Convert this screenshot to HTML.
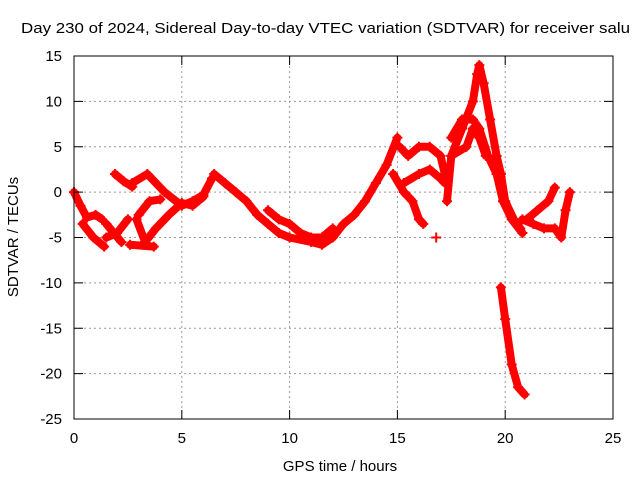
<!DOCTYPE html>
<html><head><meta charset="utf-8"><style>body{margin:0;background:#fff}svg{display:block}text{font-family:"Liberation Sans",sans-serif;font-size:15px;fill:#000}</style></head>
<body>
<svg id="chart" width="640" height="480" viewBox="0 0 640 480">
<text x="21" y="33" textLength="609" lengthAdjust="spacingAndGlyphs">Day 230 of 2024, Sidereal Day-to-day VTEC variation (SDTVAR) for receiver salu</text>
<g id="grid"></g>
<g id="marks"></g>
<rect x="74" y="56" width="539" height="363" fill="none" stroke="#000" stroke-width="1"/>
<g id="axes"></g>
<text x="340" y="471" text-anchor="middle">GPS time / hours</text>
<text transform="translate(18,237) rotate(-90)" text-anchor="middle">SDTVAR / TECUs</text>
</svg>
<script>
const xTicks=[0,5,10,15,20,25];
const yTicks=[15,10,5,0,-5,-10,-15,-20,-25];
const trackA=[[0,0],[0.3,-1.5],[0.6,-2.8],[1,-2.5],[1.3,-3]];
const trackB=[[0.4,-3.5],[0.9,-5],[1.4,-6]];
const trackC=[[1.9,2],[2.3,1.2],[2.7,0.6]];
const trackD=[[2.7,1],[3.4,2],[4.2,0],[5,-1.5],[5.5,-1],[6,-0.3],[6.4,1.5]];
const trackE=[[3,-2.5],[3.5,-1],[4,-0.8]];
const trackF1=[[1.5,-5],[2,-4.5],[2.5,-3]];
const trackF2=[[1.5,-3.5],[2.2,-5.5]];
const trackG=[[2.9,-3],[3.3,-5.5],[3.8,-4],[4.4,-2.5],[5,-1.2],[5.5,-1.5],[6,-0.5]];
const trackH=[[2.6,-5.8],[3.7,-6]];
const trackI=[[6.5,2],[7,1],[7.5,0],[8,-1],[8.5,-2.5],[9,-3.5],[9.5,-4.5],[10,-5],[11,-5.5],[11.5,-5.8],[12,-5],[12.5,-3.5],[13,-2.5],[13.5,-1],[14,1],[14.5,3],[15,6]];
const trackJ=[[9,-2],[9.5,-3],[10,-3.5],[10.5,-4.5],[11,-5],[11.5,-5],[12,-4]];
const trackK=[[15.1,5],[15.5,4],[16,5],[16.5,5],[17,4],[17.2,2]];
const trackL=[[14.8,2],[15.3,0],[15.7,-1],[16,-3],[16.2,-3.5]];
const trackM=[[15.3,1],[16,2],[16.5,2.5],[17,1.5],[17.2,1]];
const trackN=[[17.3,-1],[17.5,4],[18,7],[18.5,10],[18.7,13],[18.8,14],[19,12],[19.3,8],[19.6,4],[19.8,2],[20,-1],[20.4,-3],[20.7,-4]];
const trackO=[[17.5,6],[18,8],[18.5,8],[18.8,7],[19.2,4],[19.6,2],[19.9,-1],[20.3,-3],[20.8,-4.5]];
const trackP=[[17.5,4],[18.2,5],[18.5,7],[18.8,6],[19.1,4]];
const trackQ1=[[21,-3],[21.5,-2],[22,-1],[22.3,0.5]];
const trackQ2=[[20.8,-3],[21.3,-3.5],[21.8,-4],[22.3,-4],[22.6,-5],[22.8,-2],[23,0]];
const trackR=[[19.8,-10.5],[20,-14],[20.3,-19],[20.6,-21.5],[20.9,-22.3]];
const isolated=[[16.8,-5]];
const tracks=[trackA,trackB,trackC,trackD,trackE,trackF1,trackF2,trackG,trackH,trackI,trackJ,trackK,trackL,trackM,trackN,trackO,trackP,trackQ1,trackQ2,trackR,isolated];
const NS="http://www.w3.org/2000/svg";
const X=t=>74+t*539/25, Y=v=>56+(15-v)*363/40;
const grid=document.getElementById('grid'),axes=document.getElementById('axes'),marks=document.getElementById('marks');
function mk(tag,at,p){const e=document.createElementNS(NS,tag);for(const k in at)e.setAttribute(k,at[k]);p.appendChild(e);return e;}
xTicks.forEach(t=>{const x=X(t);
 if(t>0&&t<25){const l=mk('line',{x1:x,y1:56,x2:x,y2:419,stroke:'#999','stroke-dasharray':'2,3'},grid);}
 mk('line',{x1:x,y1:419,x2:x,y2:410,stroke:'#000'},axes);mk('line',{x1:x,y1:56,x2:x,y2:65,stroke:'#000'},axes);
 const tx=mk('text',{x:x,y:443,'text-anchor':'middle'},axes);tx.textContent=t;
 });
yTicks.forEach(v=>{const y=Y(v);
 if(v<15&&v>-25){const l=mk('line',{x1:74,y1:y,x2:613,y2:y,stroke:'#999','stroke-dasharray':'2,3'},grid);}
 mk('line',{x1:74,y1:y,x2:83,y2:y,stroke:'#000'},axes);mk('line',{x1:613,y1:y,x2:604,y2:y,stroke:'#000'},axes);
 const tx=mk('text',{x:62,y:y+5,'text-anchor':'end'},axes);tx.textContent=v;
 });
tracks.forEach(tr=>{
 const pts=tr.map(p=>X(p[0]).toFixed(1)+','+Y(p[1]).toFixed(1)).join(' ');
 if(tr.length>1){const pl=mk('polyline',{points:pts,fill:'none',stroke:'#f00','stroke-width':8,'stroke-linejoin':'round','stroke-linecap':'round'},marks);
 }
 tr.forEach(p=>{const x=X(p[0]),y=Y(p[1]);
  const g=mk('path',{d:`M${x-5},${y}H${x+5}M${x},${y-5}V${y+5}`,stroke:'#f00','stroke-width':2},marks);
  });
});
</script>
</body></html>
